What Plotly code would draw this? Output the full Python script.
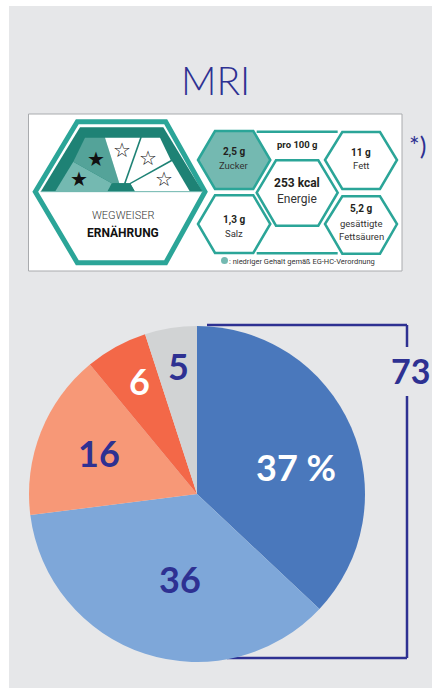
import plotly.graph_objects as go

# ---- data ----
title_text = "MRI"
categories = ["A", "B", "C", "D", "E"]
shares = [37, 36, 16, 6, 5]
share_labels = ["37 %", "36", "16", "6", "5"]
share_colors = ["#4A78BC", "#7EA7D9", "#F79877", "#F36848", "#D1D3D4"]
label_colors = ["#FFFFFF", "#2E3192", "#2E3192", "#FFFFFF", "#2E3192"]
label_x = [296, 180, 99, 139, 178]
label_y = [467, 579, 453, 381, 366]
bracket_total = "73"

NAVY = "#2E3192"
TEAL = "#2BA598"
DARK = "#1E8275"
LIGHT = "#74B9B1"
MID = "#54A399"

fig = go.Figure()
fig.add_trace(go.Pie(
    labels=categories, values=shares, sort=False, direction="clockwise", rotation=0,
    marker=dict(colors=share_colors, line=dict(width=0)),
    textinfo="none", hoverinfo="label+value", showlegend=False,
    domain=dict(x=[29/432, 365/432], y=[1-662/688, 1-326/688]),
))

shapes = []
def poly(pts, fill="rgba(0,0,0,0)", line=None, w=0):
    p = "M " + " L ".join(f"{x:.1f},{y:.1f}" for x, y in pts) + " Z"
    shapes.append(dict(type="path", path=p, xref="x", yref="y", fillcolor=fill,
                       line=dict(color=line or "rgba(0,0,0,0)", width=w), layer="below"))
def line(x0, y0, x1, y1, c, w):
    shapes.append(dict(type="line", x0=x0, y0=y0, x1=x1, y1=y1, xref="x", yref="y",
                       line=dict(color=c, width=w), layer="below"))
def z1(pts): return [(20+x/3, 100+y/3) for x, y in pts]
def z2(pts): return [(190+x/3, 100+y/3) for x, y in pts]

# panel and white card
poly([(9, 6), (432, 6), (432, 688), (9, 688)], fill="#E6E7E9")
poly([(28.5, 114), (402, 114), (402, 271), (28.5, 271)], fill="#FFFFFF", line="#A9ABAE", w=1)

# big hexagon
poly(z1([(46, 275), (172, 65), (437, 65), (555, 275), (437, 488), (172, 488)]), fill="#FFFFFF", line=TEAL, w=5)
poly(z1([(62, 275), (180, 82), (430, 82), (548, 275)]), fill=DARK)
poly(z1([(105, 275), (160, 185), (275, 250), (262, 275)]), fill=LIGHT)
poly(z1([(160, 185), (195, 113), (255, 113), (298, 250), (275, 250)]), fill=MID)
poly(z1([(255, 113), (360, 113), (312, 250), (298, 250)]), fill="#FFFFFF")
poly(z1([(365, 113), (420, 113), (452, 180), (328, 250), (317, 250)]), fill="#FFFFFF")
poly(z1([(456, 184), (510, 275), (345, 275), (332, 252)]), fill="#FFFFFF")
poly(z1([(262, 275), (280, 250), (330, 250), (345, 275)]), fill=DARK)
line(20+62/3, 100+275/3, 20+548/3, 100+275/3, LIGHT, 1)

# small hexagons
poly(z2([(24, 180), (75, 93), (190, 93), (241, 180), (190, 267), (75, 267)]), fill=LIGHT, line=TEAL, w=2.5)
poly(z2([(405, 180), (457, 96), (570, 96), (621, 180), (570, 267), (457, 267)]), fill="#FFFFFF", line=TEAL, w=2.5)
poly(z2([(24, 372), (75, 286), (190, 286), (241, 372), (190, 459), (75, 459)]), fill="#FFFFFF", line=TEAL, w=2.5)
poly(z2([(405, 372), (457, 289), (570, 289), (621, 372), (570, 461), (457, 461)]), fill="#FFFFFF", line=TEAL, w=2.5)
poly(z2([(200, 278), (258, 181), (385, 181), (443, 278), (385, 377), (258, 377)]), fill="#FFFFFF", line=TEAL, w=2.5)
line(190+200/3, 100+95/3, 190+443/3, 100+95/3, TEAL, 2.5)
line(190+200/3, 100+460/3, 190+443/3, 100+460/3, TEAL, 2.5)
shapes.append(dict(type="circle", x0=221, x1=228, y0=257, y1=264, xref="x", yref="y",
                   fillcolor=LIGHT, line=dict(width=0), layer="below"))

# bracket
line(207, 325, 407, 325, NAVY, 2.5)
line(407, 325, 407, 347, NAVY, 2.5)
line(407, 396, 407, 658, NAVY, 2.5)
line(407, 658, 227, 658, NAVY, 2.5)

anns = []
def text(x, y, s, size, color="#231F20", family="Roboto", bold=False, weight=None):
    f = dict(size=size, color=color, family=family)
    if weight:
        f["weight"] = weight
    anns.append(dict(x=x, y=y, xref="x", yref="y", text=f"<b>{s}</b>" if bold else s, showarrow=False,
                     xanchor="center", yanchor="middle", font=f))

text(215, 80, title_text, 39, NAVY, "Lato", weight=300)
text(417, 145, "*)", 25, NAVY, "Lato")
for s, c, x, y in zip(share_labels, label_colors, label_x, label_y):
    text(x, y, s, 36 if s != "37 %" else 36, c, "Lato", True)
text(410, 370, bracket_total, 34, NAVY, "Lato", True)

text(123, 215, "WEGWEISER", 11, "#333333", weight=300)
text(123, 232, "ERNÄHRUNG", 12, "#111111", bold=True)
text(297, 144, "pro 100 g", 9.5, bold=True)
text(234, 152, "2,5 g", 10, bold=True)
text(234, 165, "Zucker", 9.5, "#333333")
text(361, 152, "11 g", 10, bold=True)
text(361, 165, "Fett", 9.5, "#333333")
text(297, 183, "253 kcal", 12, bold=True)
text(297, 199, "Energie", 12, "#333333")
text(234, 220, "1,3 g", 10, bold=True)
text(234, 233, "Salz", 9.5, "#333333")
text(361, 209, "5,2 g", 10, bold=True)
text(361, 223, "gesättigte", 9.5, "#333333")
text(361, 236, "Fettsäuren", 9.5, "#333333")
text(302, 261, ": niedriger Gehalt gemäß EG-HC-Verordnung", 7.5, "#333333")
for x, y, s, c in [(96, 159, "★", "#111111"), (79, 179, "★", "#111111"), (122, 150, "☆", "#222222"),
                   (148, 158, "☆", "#222222"), (164, 179, "☆", "#222222")]:
    text(x, y, s, 20, c, "DejaVu Sans")

fig.update_layout(
    width=432, height=688, autosize=False, margin=dict(l=0, r=0, t=0, b=0),
    paper_bgcolor="#FFFFFF", plot_bgcolor="rgba(0,0,0,0)",
    xaxis=dict(range=[0, 432], visible=False, fixedrange=True),
    yaxis=dict(range=[688, 0], visible=False, fixedrange=True),
    shapes=shapes, annotations=anns,
)
fig.write_html("out.html", config=dict(displayModeBar=False),
               post_script="document.body.style.margin='0';document.documentElement.style.overflow='hidden';")
